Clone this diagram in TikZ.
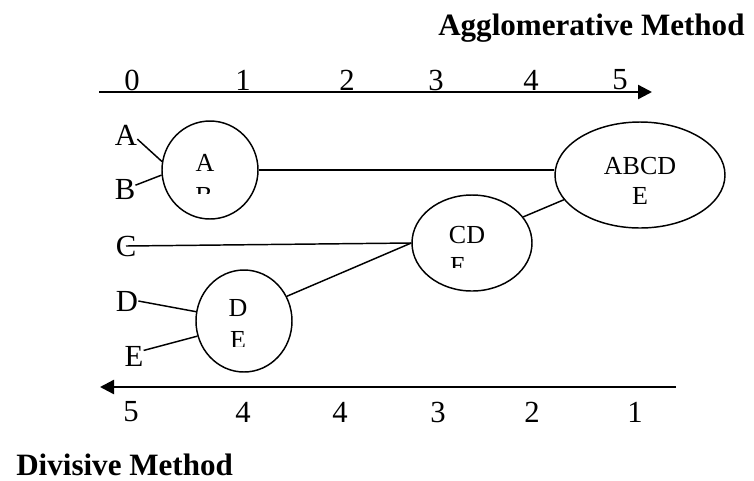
\documentclass[tikz,border=0pt]{standalone}
\usepackage{fontspec}
\setmainfont{Liberation Serif}
\usetikzlibrary{shapes.geometric,arrows.meta}

\begin{document}
\begin{tikzpicture}[x=0.75pt,y=-0.75pt,
  lbl/.style={inner sep=0pt, font=\fontsize{23}{26}\selectfont},
  ttl/.style={inner sep=0pt, anchor=base west, font=\fontsize{23.3}{26}\selectfont\bfseries},
  clus/.style={ellipse, draw, line width=1.1pt, inner sep=0pt},
  cltext/.style={inner sep=0pt, font=\fontsize{19.5}{22}\selectfont},
  link/.style={line width=1.1pt},
  axis/.style={line width=1.8pt, -{Triangle[length=10.5pt,width=10.5pt]}}]
\useasboundingbox (0,0) rectangle (754,480);

% titles
\node[ttl] (agg) at (438,35) {Agglomerative Method};
\node[ttl] (div) at (16,475) {Divisive Method};

% top scale
\coordinate (tl) at (99,92);
\coordinate (tr) at (652,92);
\draw[axis] (tl) -- (tr);
\node[lbl] (t0) at (132,80) {0};
\node[lbl] (t1) at (243,80) {1};
\node[lbl] (t2) at (347,80) {2};
\node[lbl] (t3) at (436,80) {3};
\node[lbl] (t4) at (531,80) {4};
\node[lbl] (t5) at (620,80) {5};

% bottom scale
\coordinate (br) at (676,387);
\coordinate (bl) at (100,387);
\draw[axis] (br) -- (bl);
\node[lbl] (b5) at (131,412) {5};
\node[lbl] (b4) at (243,412) {4};
\node[lbl] (b4b) at (340,412) {4};
\node[lbl] (b3) at (438,412) {3};
\node[lbl] (b2) at (532,412) {2};
\node[lbl] (b1) at (635,412) {1};

% objects
\node[lbl] (A) at (126,135) {A};
\node[lbl] (B) at (125,189) {B};
\node[lbl] (C) at (126,246) {C};
\node[lbl] (D) at (127,301) {D};
\node[lbl] (E) at (134,356) {E};

% clusters
\node[clus, minimum width=72pt, minimum height=73.5pt] (ab) at (210,170) {};
\node[clus, minimum width=90pt, minimum height=72pt] (cde) at (472,243) {};
\node[clus, minimum width=72pt, minimum height=76.5pt] (de) at (244,321) {};
\node[clus, minimum width=127.5pt, minimum height=79.5pt] (abcde) at (640,175) {};

\node[cltext] (abt) at (205,163) {A};
\begin{scope}
  \clip (180,150) rectangle (240,193);
  \node[cltext] (abt2) at (204,196) {B};
\end{scope}
\node[cltext] (cdet) at (467,235) {CD};
\begin{scope}
  \clip (430,250) rectangle (500,267);
  \node[cltext] (cdet2) at (458,266) {E};
\end{scope}
\node[cltext] (det) at (238,308) {D};
\begin{scope}
  \clip (220,325) rectangle (260,346);
  \node[cltext] (det2) at (238,340) {E};
\end{scope}
\node[cltext] (abcdet) at (640,166) {ABCD};
\node[cltext] (abcdet2) at (640,196) {E};

% merges
\draw[link] (A.-20) -- (ab.170);
\draw[link] (B.20) -- (ab.186);
\draw[link] (D.east) -- (de.169);
\draw[link] (E.30) -- (de.198);
\draw[link] (C.center) -- (cde.west);
\draw[link] (de.30) -- (cde.west);
\draw[link] (ab.east) -- (ab.east -| abcde.west);
\draw[link] (cde.27) -- (abcde.198);
\end{tikzpicture}
\end{document}
